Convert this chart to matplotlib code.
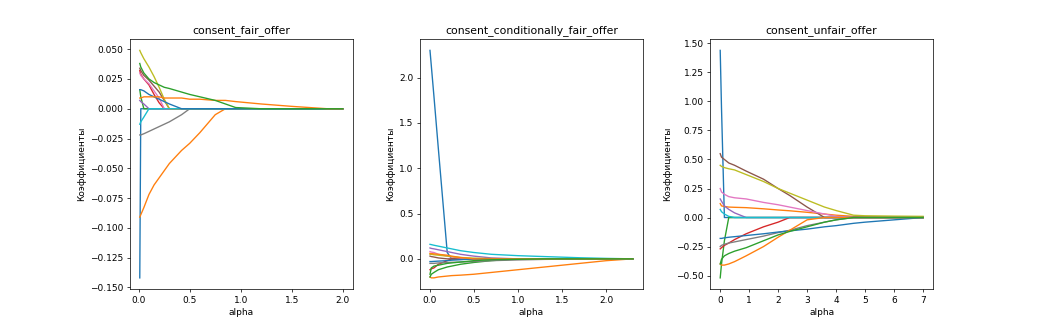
import numpy as np
import matplotlib
matplotlib.use('Agg')
import matplotlib.pyplot as plt

targets = ['consent_fair_offer', 'consent_conditionally_fair_offer', 'consent_unfair_offer']

# alpha grid and lasso coefficients along it, one row per feature
alphas_fair = [0.01, 0.02, 0.05, 0.1, 0.15, 0.2, 0.25, 0.3, 0.42, 0.5, 0.6, 0.75, 0.85, 0.95, 1.2, 1.5, 1.85, 2.0]
coefs_fair = [
    [-0.142, 0, 0, 0, 0, 0, 0, 0, 0, 0, 0, 0, 0, 0, 0, 0, 0, 0],
    [-0.091, -0.089, -0.083, -0.072, -0.064, -0.058, -0.052, -0.046, -0.035, -0.029, -0.020, -0.005, 0, 0, 0, 0, 0, 0],
    [0.016, 0.010, 0, 0, 0, 0, 0, 0, 0, 0, 0, 0, 0, 0, 0, 0, 0, 0],
    [0.032, 0.029, 0.025, 0.020, 0.012, 0.005, 0, 0, 0, 0, 0, 0, 0, 0, 0, 0, 0, 0],
    [0.007, 0.006, 0.004, 0, 0, 0, 0, 0, 0, 0, 0, 0, 0, 0, 0, 0, 0, 0],
    [0.034, 0.032, 0.028, 0.024, 0.019, 0.014, 0.007, 0, 0, 0, 0, 0, 0, 0, 0, 0, 0, 0],
    [0.030, 0.028, 0.025, 0.021, 0.015, 0.009, 0, 0, 0, 0, 0, 0, 0, 0, 0, 0, 0, 0],
    [-0.022, -0.022, -0.021, -0.019, -0.017, -0.015, -0.013, -0.011, -0.005, 0, 0, 0, 0, 0, 0, 0, 0, 0],
    [0.049, 0.047, 0.042, 0.035, 0.027, 0.018, 0.008, 0, 0, 0, 0, 0, 0, 0, 0, 0, 0, 0],
    [-0.013, -0.011, -0.007, 0, 0, 0, 0, 0, 0, 0, 0, 0, 0, 0, 0, 0, 0, 0],
    [0.016, 0.016, 0.015, 0.012, 0.010, 0.008, 0.006, 0.004, 0, 0, 0, 0, 0, 0, 0, 0, 0, 0],
    [0.009, 0.009, 0.010, 0.010, 0.010, 0.010, 0.009, 0.009, 0.009, 0.008, 0.008, 0.007, 0.007, 0.006, 0.004, 0.002, 0, 0],
    [0.038, 0.035, 0.030, 0.025, 0.022, 0.020, 0.018, 0.017, 0.014, 0.012, 0.010, 0.007, 0.004, 0.001, 0, 0, 0, 0],
]

alphas_cond = [0.005, 0.02, 0.05, 0.1, 0.2, 0.25, 0.35, 0.5, 0.7, 1.0, 1.3, 1.7, 2.0, 2.3]
coefs_cond = [
    [2.30, 2.13, 1.79, 1.21, 0.07, 0, 0, 0, 0, 0, 0, 0, 0, 0],
    [-0.20, -0.21, -0.21, -0.20, -0.19, -0.185, -0.18, -0.17, -0.15, -0.12, -0.09, -0.05, -0.02, 0],
    [-0.20, -0.17, -0.15, -0.12, -0.09, -0.08, -0.06, -0.04, -0.02, 0, 0, 0, 0, 0],
    [-0.12, -0.11, -0.10, -0.06, -0.02, 0, 0, 0, 0, 0, 0, 0, 0, 0],
    [0.12, 0.115, 0.11, 0.10, 0.08, 0.07, 0.05, 0.03, 0.01, 0, 0, 0, 0, 0],
    [0.03, 0.025, 0.02, 0.01, 0, 0, 0, 0, 0, 0, 0, 0, 0, 0],
    [0.08, 0.075, 0.07, 0.05, 0.03, 0.02, 0.01, 0, 0, 0, 0, 0, 0, 0],
    [-0.05, -0.05, -0.05, -0.045, -0.04, -0.038, -0.035, -0.03, -0.02, -0.012, -0.006, -0.002, 0, 0],
    [0.05, 0.05, 0.045, 0.04, 0.03, 0.025, 0.015, 0.008, 0.003, 0, 0, 0, 0, 0],
    [0.16, 0.157, 0.15, 0.14, 0.12, 0.11, 0.09, 0.07, 0.05, 0.035, 0.025, 0.012, 0.005, 0],
    [-0.03, -0.03, -0.028, -0.025, -0.02, -0.015, -0.01, 0, 0, 0, 0, 0, 0, 0],
    [0.06, 0.058, 0.055, 0.05, 0.04, 0.03, 0.015, 0, 0, 0, 0, 0, 0, 0],
    [-0.17, -0.10, -0.08, -0.07, -0.05, -0.045, -0.035, -0.02, -0.01, -0.005, 0, 0, 0, 0],
]

alphas_unfair = [0.005, 0.05, 0.15, 0.3, 0.5, 0.9, 1.5, 2.0, 2.4, 3.0, 3.6, 4.0, 4.6, 5.0, 6.0, 7.0]
coefs_unfair = [
    [1.44, 0.94, 0, 0, 0, 0, 0, 0, 0, 0, 0, 0, 0, 0, 0, 0],
    [0.12, 0.10, 0.095, 0.09, 0.088, 0.085, 0.075, 0.065, 0.058, 0.045, 0.03, 0.02, 0.01, 0.008, 0.004, 0],
    [-0.52, -0.40, -0.20, 0, 0, 0, 0, 0, 0, 0, 0, 0, 0, 0, 0, 0],
    [-0.27, -0.26, -0.24, -0.22, -0.19, -0.14, -0.08, -0.04, 0, 0, 0, 0, 0, 0, 0, 0],
    [0.16, 0.14, 0.10, 0.07, 0.04, 0, 0, 0, 0, 0, 0, 0, 0, 0, 0, 0],
    [0.55, 0.52, 0.50, 0.47, 0.45, 0.40, 0.33, 0.25, 0.19, 0.09, 0, 0, 0, 0, 0, 0],
    [0.25, 0.22, 0.20, 0.18, 0.17, 0.16, 0.13, 0.11, 0.09, 0.06, 0.03, 0.01, 0, 0, 0, 0],
    [-0.25, -0.24, -0.23, -0.22, -0.21, -0.19, -0.16, -0.13, -0.11, -0.07, -0.04, -0.02, 0, 0, 0, 0],
    [0.45, 0.44, 0.43, 0.42, 0.41, 0.37, 0.31, 0.25, 0.21, 0.15, 0.09, 0.06, 0.02, 0.015, 0.012, 0.01],
    [0.07, 0.05, 0.03, 0.01, 0, 0, 0, 0, 0, 0, 0, 0, 0, 0, 0, 0],
    [-0.18, -0.18, -0.175, -0.17, -0.165, -0.155, -0.14, -0.125, -0.115, -0.10, -0.08, -0.07, -0.05, -0.04, -0.02, 0],
    [-0.40, -0.41, -0.41, -0.40, -0.38, -0.33, -0.25, -0.17, -0.11, -0.02, 0, 0, 0, 0, 0, 0],
    [-0.40, -0.36, -0.33, -0.31, -0.29, -0.26, -0.20, -0.15, -0.12, -0.08, -0.04, -0.02, 0, 0, 0, 0],
]

paths = [(alphas_fair, coefs_fair), (alphas_cond, coefs_cond), (alphas_unfair, coefs_unfair)]

fig, axes = plt.subplots(1, 3, figsize=(1037 / 65, 5), dpi=65)
fig.subplots_adjust(wspace=0.3)

for ax, target, (alphas, coefs) in zip(axes, targets, paths):
    for coef in coefs:
        ax.plot(alphas, coef)
    ax.set_title(target)
    ax.set_xlabel('alpha')
    ax.set_ylabel('Коэффициенты')

fig.savefig('out.png', dpi=65)
